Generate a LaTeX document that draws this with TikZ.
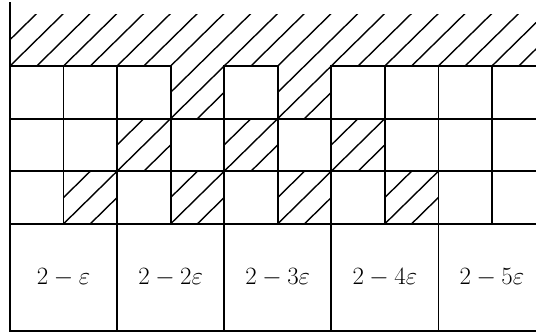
\documentclass[tikz,border=0pt]{standalone}
\begin{document}
\begin{tikzpicture}[x=1pt,y=-1pt,
  gridline/.style={line width=1.8pt, line cap=rect},
  hatchline/.style={line width=1.4pt},
  box/.style={draw, line width=1.8pt, minimum width=107.1pt, minimum height=107pt,
    inner sep=0pt, font=\fontsize{25}{30}\selectfont}]
\def\cw{53.55}
\def\ch{52.6}
\clip (0,0) rectangle (536,332);
% hatched region
\begin{scope}
  \clip (10,14) rectangle (560,66)
    \foreach \c/\r in {4/1,6/1,3/2,5/2,7/2,2/3,4/3,6/3,8/3}{
      ({10+(\c-1)*\cw},{66+(\r-1)*\ch}) rectangle ({10+\c*\cw},{66+\r*\ch})
    };
  \foreach \k in {-6,...,24}{
    \draw[hatchline] ({10+\k*\cw/2-3*\cw},{66+3*\ch}) -- ({10+\k*\cw/2+\cw},{66-\ch});
  }
\end{scope}
% grid
\draw[gridline] (10,3) -- (10,331);
\draw[gridline] (10,66) -- ({10+3*\cw},66);
\draw[gridline] ({10+4*\cw},66) -- ({10+5*\cw},66);
\draw[gridline] ({10+6*\cw},66) -- (560,66);
\foreach \r in {1,2,3}{
  \draw[gridline] (10,{66+\r*\ch}) -- (560,{66+\r*\ch});
}
\foreach \c in {1,...,9}{
  \draw[gridline] ({10+\c*\cw},66) -- ({10+\c*\cw},{66+3*\ch});
}
% bottom boxes
\foreach \i/\t in {1/{2-\varepsilon},2/{2-2\varepsilon},3/{2-3\varepsilon},4/{2-4\varepsilon},5/{2-5\varepsilon}}{
  \node[box] (b\i) at ({10+(2*\i-1)*\cw},{66+3*\ch+53.5}) {$\t$};
}
\end{tikzpicture}
\end{document}
